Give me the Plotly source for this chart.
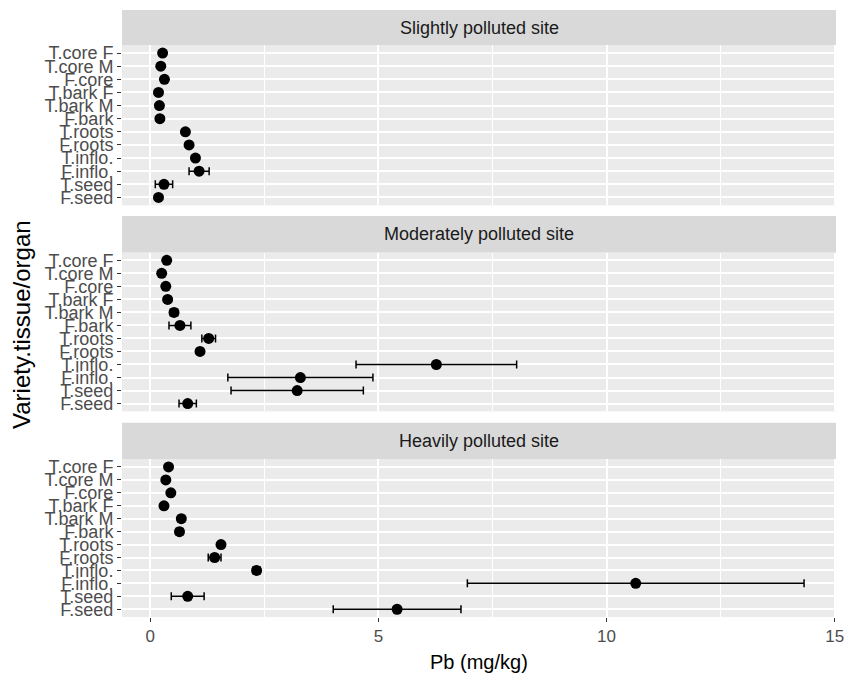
import plotly.graph_objects as go

# ---------------- data ----------------
categories = ["T.core F", "T.core M", "F.core", "T.bark F", "T.bark M", "F.bark",
              "T.roots", "F.roots", "T.inflo.", "F.inflo.", "T.seed", "F.seed"]

sites = ["Slightly polluted site", "Moderately polluted site", "Heavily polluted site"]

slight_mean = [0.27, 0.23, 0.31, 0.18, 0.20, 0.21, 0.77, 0.85, 0.99, 1.07, 0.30, 0.18]
slight_sd   = [0.00, 0.00, 0.00, 0.00, 0.00, 0.00, 0.00, 0.00, 0.00, 0.22, 0.19, 0.00]

moderate_mean = [0.36, 0.25, 0.34, 0.38, 0.52, 0.65, 1.28, 1.09, 6.27, 3.29, 3.22, 0.82]
moderate_sd   = [0.00, 0.00, 0.00, 0.00, 0.08, 0.24, 0.15, 0.00, 1.76, 1.59, 1.45, 0.19]

heavy_mean = [0.40, 0.34, 0.45, 0.30, 0.68, 0.64, 1.55, 1.41, 2.33, 10.64, 0.82, 5.41]
heavy_sd   = [0.00, 0.00, 0.00, 0.00, 0.07, 0.07, 0.05, 0.14, 0.08, 3.69, 0.36, 1.40]

x_ticks = [0, 5, 10, 15]
x_title = "Pb (mg/kg)"
y_title = "Variety.tissue/organ"

# ---------------- layout geometry (pixels) ----------------
W, H = 861, 682
L, R = 122, 836          # panel left / right
TOP, BOT = 8, 617        # overall top (first strip) / bottom (last panel)
PH = BOT - TOP

def fy(y):  # pixel y -> paper fraction
    return (BOT - y) / PH

panels = [  # (strip_top, panel_top, panel_bottom)
    (8.0, 43.3, 204.0),
    (214.7, 251.3, 410.7),
    (422.0, 458.7, 617.0),
]

FONT = "Liberation Sans, Arial, sans-serif"
fig = go.Figure()

series = [(slight_mean, slight_sd), (moderate_mean, moderate_sd), (heavy_mean, heavy_sd)]
cat_order = list(reversed(categories))  # bottom -> top

for i, (m, sd) in enumerate(series):
    suffix = "" if i == 0 else str(i + 1)
    fig.add_trace(go.Scatter(
        x=m, y=categories, mode="markers",
        marker=dict(color="black", size=11),
        error_x=dict(type="data", array=sd, symmetric=True, color="black",
                     thickness=1.5, width=4),
        xaxis="x" + suffix, yaxis="y" + suffix, showlegend=False,
        hoverinfo="x+y",
    ))

layout = dict(
    width=W, height=H,
    margin=dict(l=L, r=W - R, t=TOP, b=H - BOT, pad=0),
    paper_bgcolor="white", plot_bgcolor="#EBEBEB",
    font=dict(family=FONT, color="#4D4D4D"),
    showlegend=False,
)
shapes, annotations = [], []
for i, (st, pt, pb) in enumerate(panels):
    suffix = "" if i == 0 else str(i + 1)
    last = (i == 2)
    xa = dict(
        domain=[0, 1], range=[-0.62, 15.03], anchor="y" + suffix,
        tickmode="array", tickvals=x_ticks, ticktext=[str(t) for t in x_ticks],
        showticklabels=last, ticks="outside" if last else "",
        ticklen=4, tickcolor="#333333", tickwidth=1,
        tickfont=dict(size=17, color="#4D4D4D", family=FONT),
        showgrid=True, gridcolor="white", gridwidth=1.5,
        minor=dict(tickmode="array", tickvals=[2.5, 7.5, 12.5], showgrid=True,
                   gridcolor="white", gridwidth=0.8, ticks=""),
        zeroline=False, showline=False,
    )
    if i > 0:
        xa["matches"] = "x"
    layout["xaxis" + suffix] = xa
    layout["yaxis" + suffix] = dict(
        domain=[fy(pb), fy(pt)], anchor="x" + suffix,
        type="category", categoryorder="array", categoryarray=cat_order,
        tickmode="array", tickvals=cat_order, ticktext=cat_order,
        range=[-0.6, 11.6],
        ticks="outside", ticklen=4, tickcolor="#333333", tickwidth=1,
        tickfont=dict(size=18, color="#4D4D4D", family=FONT),
        showgrid=True, gridcolor="white", gridwidth=1.5,
        zeroline=False, showline=False,
    )
    shapes.append(dict(type="rect", xref="paper", yref="paper",
                       x0=0, x1=1, y0=fy(pt), y1=fy(st),
                       fillcolor="#D9D9D9", line=dict(width=0), layer="below"))
    annotations.append(dict(text=sites[i], xref="paper", yref="paper",
                            x=0.5, y=(fy(pt) + fy(st)) / 2, showarrow=False,
                            xanchor="center", yanchor="middle",
                            font=dict(size=18, color="#1A1A1A", family=FONT)))

annotations.append(dict(text=x_title, xref="paper", yref="paper",
                        x=0.5, y=fy(662), showarrow=False, xanchor="center",
                        yanchor="middle", font=dict(size=20, color="black", family=FONT)))
annotations.append(dict(text=y_title, xref="paper", yref="paper",
                        x=(22 - L) / (R - L), y=fy(324), showarrow=False,
                        xanchor="center", yanchor="middle", textangle=-90,
                        font=dict(size=24, color="black", family=FONT)))
layout["shapes"] = shapes
layout["annotations"] = annotations
fig.update_layout(**layout)

fig.write_html("out.html")
